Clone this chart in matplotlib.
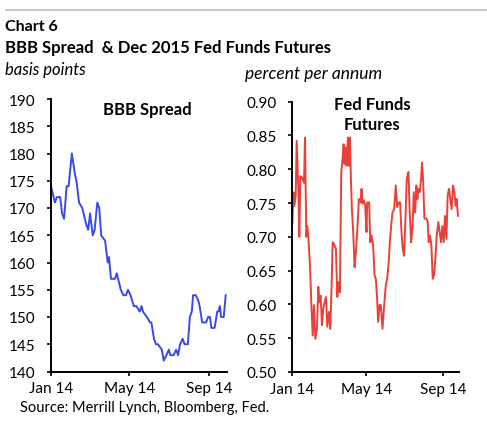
import matplotlib
matplotlib.use("Agg")
import matplotlib.pyplot as plt
from matplotlib.lines import Line2D

plt.rcParams['font.family'] = ['Lato', 'DejaVu Sans']

# ---- data (x = days since 1 Jan 2014) ----
bbb_days = [0, 6, 9, 14, 17, 20, 24, 27, 32, 37, 39, 43, 48, 54, 57, 60, 64, 67, 71, 74,
            77, 83, 87, 89, 92, 98, 101, 103, 107, 111, 115, 118, 122, 127, 131, 136, 139,
            141, 147, 152, 154, 158, 161, 164, 170, 173, 177, 181, 183, 188, 192, 195, 198,
            202, 205, 210, 213, 216, 218, 222, 226, 228, 232, 238, 241, 244, 246, 251, 255,
            257, 259, 261, 265, 268]
bbb_vals = [174, 171, 172, 172, 169, 168, 174, 174, 180, 176, 175, 171, 170, 167, 166, 169,
            165, 166, 171, 170, 165, 164, 160, 161, 157, 157, 158, 157, 155, 154, 154, 155,
            154, 152, 152, 151, 152, 151, 150, 149, 149, 146, 145, 145, 144, 142, 143, 144,
            143, 143, 144, 143, 145, 146, 145, 145, 150, 151, 154, 154, 153, 152, 149, 149,
            150, 150, 148, 148, 151, 151, 152, 150, 150, 154]

ff_days = [1, 2.7, 4.3, 6.4, 8.0, 10.7, 12.3, 13.9, 16.6, 18.7, 19.8, 21.4, 23.5, 25.1, 26.7,
           29.4, 32.1, 33.7, 35.8, 38.0, 40.6, 42.8, 44.4, 46.5, 48.7, 50.8, 52.9, 55.1, 57.2,
           59.9, 62.0, 64.2, 65.8, 67.9, 71.1, 73.3, 75.4, 77.5, 79.7, 81.8, 83.4, 85.0, 86.6,
           88.2, 90.4, 92.0, 93.6, 95.2, 96.8, 98.9, 101.1, 103.2, 105.9, 108.0, 110.7, 112.3,
           113.9, 116.0, 118.2, 120.3, 121.4, 124.6, 126.2, 128.3, 131.0, 133.2, 135.3, 137.4,
           139.0, 141.2, 143.3, 146.0, 148.7, 151.3, 153.5, 155.6, 157.8, 159.9, 162.0, 164.7,
           167.4, 169.5, 172.2, 174.3, 176.5, 178.6, 180.7, 182.9, 185.0, 187.7, 189.8, 192.0,
           194.1, 196.3, 198.4, 200.5, 202.1, 203.7, 205.9, 208.0, 209.6, 211.2, 213.4, 216.6,
           218.7, 220.3, 222.5, 224.6, 226.7, 228.9, 231.0, 233.2, 235.8, 238.0, 240.1, 242.2,
           244.4, 246.5, 248.7, 250.8, 252.9, 255.1, 257.2, 259.4, 261.5, 263.6, 265.2, 267.4]
ff_vals = [0.720, 0.766, 0.746, 0.760, 0.842, 0.771, 0.700, 0.790, 0.788, 0.783, 0.780, 0.847,
           0.700, 0.716, 0.700, 0.658, 0.589, 0.554, 0.599, 0.549, 0.564, 0.626, 0.603, 0.613,
           0.569, 0.594, 0.603, 0.611, 0.567, 0.589, 0.564, 0.628, 0.692, 0.690, 0.682, 0.611,
           0.633, 0.618, 0.796, 0.815, 0.837, 0.808, 0.832, 0.805, 0.847, 0.805, 0.847, 0.786,
           0.741, 0.707, 0.655, 0.677, 0.717, 0.756, 0.751, 0.771, 0.749, 0.754, 0.746, 0.707,
           0.751, 0.751, 0.692, 0.702, 0.687, 0.643, 0.638, 0.608, 0.574, 0.599, 0.599, 0.564,
           0.599, 0.628, 0.638, 0.658, 0.692, 0.716, 0.736, 0.741, 0.776, 0.744, 0.751, 0.751,
           0.707, 0.682, 0.672, 0.727, 0.786, 0.796, 0.736, 0.692, 0.711, 0.766, 0.736, 0.776,
           0.756, 0.771, 0.766, 0.786, 0.810, 0.786, 0.727, 0.727, 0.722, 0.692, 0.702, 0.687,
           0.638, 0.643, 0.667, 0.702, 0.722, 0.707, 0.692, 0.716, 0.692, 0.731, 0.697, 0.761,
           0.771, 0.756, 0.741, 0.776, 0.766, 0.746, 0.756, 0.731]

xtick_days = [0, 120, 243]
xtick_labels = ["Jan 14", "May 14", "Sep 14"]
bbb_yticks = [140, 145, 150, 155, 160, 165, 170, 175, 180, 185, 190]
ff_yticks = [0.50, 0.55, 0.60, 0.65, 0.70, 0.75, 0.80, 0.85, 0.90]

W, H = 487, 431
fig = plt.figure(figsize=(W / 100, H / 100), dpi=100)
fig.patch.set_facecolor('white')

def px_axes(x0, y0, x1, y1):
    return fig.add_axes([x0 / W, 1 - y1 / H, (x1 - x0) / W, (y1 - y0) / H])

def style(ax):
    for s in ['top', 'right']:
        ax.spines[s].set_visible(False)
    for s in ['left', 'bottom']:
        ax.spines[s].set_linewidth(1.4)
        ax.spines[s].set_color('black')
    ax.tick_params(axis='both', direction='out', length=3, width=1.2,
                   labelsize=11, colors='black')
    ax.tick_params(axis='y', pad=8)
    ax.tick_params(axis='x', pad=4)
    ax.set_xticks(xtick_days)
    ax.set_xticklabels(xtick_labels)

ax1 = px_axes(51, 100, 227, 372.5)
ax1.plot(bbb_days, bbb_vals, color='#3a4ae6', lw=1.4)
ax1.set_xlim(0, 270)
ax1.set_ylim(140, 190)
ax1.set_yticks(bbb_yticks)
style(ax1)
ax1.text(0.545, 0.965, "BBB Spread", transform=ax1.transAxes, ha='center', va='center',
         fontsize=12, fontweight='bold')

ax2 = px_axes(291.7, 102.7, 459, 373)
ax2.plot(ff_days, ff_vals, color='#e8413a', lw=1.4)
ax2.set_xlim(0, 269)
ax2.set_ylim(0.50, 0.90)
ax2.set_yticks(ff_yticks)
ax2.set_yticklabels([f"{v:.2f}" for v in ff_yticks])
style(ax2)
ax2.text(0.48, 0.955, "Fed Funds\nFutures", transform=ax2.transAxes, ha='center', va='center',
         fontsize=12, fontweight='bold', linespacing=1.3)

fig.add_artist(Line2D([6 / W, 1.0], [1 - 11 / H, 1 - 11 / H], color='#c8c8c8', lw=1.5))
fig.text(5 / W, 1 - 27 / H, "Chart 6", fontsize=11.5, fontweight='bold', va='center', ha='left')
fig.text(5 / W, 1 - 48 / H, "BBB Spread  & Dec 2015 Fed Funds Futures", fontsize=12,
         fontweight='bold', va='center', ha='left')
fig.text(5 / W, 1 - 70 / H, "basis points", fontsize=12, style='italic', va='center', ha='left')
fig.text(245 / W, 1 - 74 / H, "percent per annum", fontsize=12.5, style='italic', va='center', ha='left')
fig.text(20 / W, 1 - 408 / H, "Source: Merrill Lynch, Bloomberg, Fed.", fontsize=10.5,
         va='center', ha='left')

fig.savefig("out.png", dpi=100)
